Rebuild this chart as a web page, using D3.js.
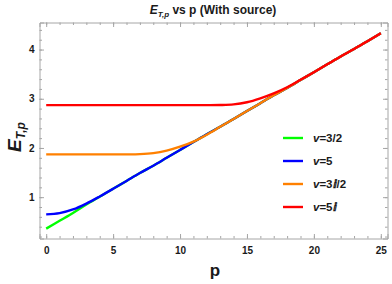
<!DOCTYPE html>
<html>
<head>
<meta charset="utf-8">
<script src="https://cdn.jsdelivr.net/npm/d3@7"></script>
<style>
  body { margin: 0; background: #fff; }
  svg { display: block; font-family: "Liberation Sans", Arial, sans-serif; }
  .frame path, .frame line { stroke: #a6a6a6; }
  .frame text { fill: #1a1a1a; font-weight: bold; font-size: 10px; }
  .curve { fill: none; stroke-width: 2.4px; stroke-linejoin: round; }
</style>
</head>
<body>
<svg id="chart" width="392" height="284"></svg>
<script>
// values
const p = [0,1,2,3,4,5,6,7,8,9,10,11,12,13,14,15,16,17,18,19,20,21,22,23,24,25];
const v32 = [0.36,0.52,0.68,0.85,1.01,1.17,1.33,1.49,1.64,1.80,1.96,2.12,2.28,2.43,2.59,2.75,2.91,3.07,3.22,3.38,3.54,3.70,3.86,4.01,4.17,4.33];
const v5 = [0.65,0.675,0.75,0.87,1.015,1.17,1.33,1.49,1.64,1.80,1.96,2.12,2.28,2.43,2.59,2.75,2.91,3.07,3.22,3.38,3.54,3.70,3.86,4.01,4.17,4.33];
const v3i2 = [1.87,1.87,1.87,1.87,1.87,1.87,1.87,1.875,1.895,1.945,2.025,2.13,2.27,2.43,2.59,2.75,2.91,3.07,3.22,3.38,3.54,3.70,3.86,4.01,4.17,4.33];
const v5i = [2.87,2.87,2.87,2.87,2.87,2.87,2.87,2.87,2.87,2.87,2.87,2.87,2.87,2.872,2.885,2.93,3.01,3.11,3.235,3.385,3.54,3.70,3.86,4.01,4.17,4.33];

const seriesNames = ["v=3/2", "v=5", "v=3ⅈ/2", "v=5ⅈ"];
const seriesColors = ["#00ff00", "#0000ff", "#ff8000", "#ff0000"];
const xTicks = [0,5,10,15,20,25];
const yTicks = [1,2,3,4];

const svg = d3.select("#chart");
const plot = { left: 39.5, right: 387.5, top: 22.5, bottom: 238.5 };

const x = d3.scaleLinear().domain([-0.5, 25.5]).range([plot.left, plot.right]);
const y = d3.scaleLinear().domain([0.16, 4.55]).range([plot.bottom, plot.top]);

const xMinor = d3.range(0, 26, 1);
const yMinor = d3.range(2, 45, 2).map(d => d / 10);

// frame + ticks (inward, Mathematica style)
function frameAxis(axis, tr, cls) {
  return svg.append("g").attr("class", "frame " + cls).attr("transform", tr).call(axis);
}
frameAxis(d3.axisBottom(x).tickValues(xTicks).tickSize(-4.5).tickPadding(8).tickFormat(d3.format("d")), `translate(0,${plot.bottom})`, "xb");
frameAxis(d3.axisBottom(x).tickValues(xMinor).tickSize(-2.5).tickFormat(""), `translate(0,${plot.bottom})`, "xbm");
frameAxis(d3.axisTop(x).tickValues(xTicks).tickSize(-4.5).tickFormat(""), `translate(0,${plot.top})`, "xt");
frameAxis(d3.axisTop(x).tickValues(xMinor).tickSize(-2.5).tickFormat(""), `translate(0,${plot.top})`, "xtm");
frameAxis(d3.axisLeft(y).tickValues(yTicks).tickSize(-4.5).tickPadding(5).tickFormat(d3.format("d")), `translate(${plot.left},0)`, "yl");
frameAxis(d3.axisLeft(y).tickValues(yMinor).tickSize(-2.5).tickFormat(""), `translate(${plot.left},0)`, "ylm");
frameAxis(d3.axisRight(y).tickValues(yTicks).tickSize(-4.5).tickFormat(""), `translate(${plot.right},0)`, "yr");
frameAxis(d3.axisRight(y).tickValues(yMinor).tickSize(-2.5).tickFormat(""), `translate(${plot.right},0)`, "yrm");
svg.selectAll(".frame path.domain").attr("stroke-width", 1);
svg.selectAll(".xbm path, .xtm path, .ylm path, .yrm path").remove();

// curves
const seriesData = [v32, v5, v3i2, v5i];
const line = d3.line()
  .x((d, i) => x(p[i]))
  .y(d => y(d))
  .curve(d3.curveCatmullRom.alpha(0.5));

svg.append("g")
  .selectAll("path")
  .data(seriesData)
  .join("path")
  .attr("class", "curve")
  .attr("stroke", (d, i) => seriesColors[i])
  .attr("d", line);

// title
const title = svg.append("text")
  .attr("x", 213).attr("y", 14)
  .attr("text-anchor", "middle")
  .style("font-size", "12px").style("font-weight", "bold").attr("fill", "#1a1a1a");
title.append("tspan").style("font-style", "italic").text("E");
title.append("tspan").style("font-style", "italic").style("font-size", "8px").attr("dy", 3).text("T,p");
title.append("tspan").attr("dy", -3).text(" vs p (With source)");

// axis labels
svg.append("text")
  .attr("x", 215).attr("y", 276)
  .attr("text-anchor", "middle")
  .style("font-size", "17px").style("font-weight", "bold").attr("fill", "#1a1a1a")
  .text("p");

const yl = svg.append("text")
  .attr("transform", "translate(21,137) rotate(-90)")
  .attr("text-anchor", "middle")
  .style("font-size", "19px").style("font-weight", "bold").style("font-style", "italic").attr("fill", "#1a1a1a");
yl.append("tspan").text("E");
yl.append("tspan").style("font-size", "12px").attr("dy", 4).text("T,p");

// legend
const legY = d3.scalePoint().domain(seriesNames).range([138, 207]);
const leg = svg.append("g").selectAll("g")
  .data(seriesNames)
  .join("g")
  .attr("transform", d => `translate(283,${legY(d)})`);
leg.append("line")
  .attr("x1", 0).attr("x2", 20)
  .attr("stroke", (d, i) => seriesColors[i])
  .attr("stroke-width", 2.4);
const lt = leg.append("text")
  .attr("x", 30).attr("y", 4)
  .style("font-size", "11.5px").style("font-weight", "bold").attr("fill", "#1a1a1a");
lt.append("tspan").style("font-style", "italic").text("v");
lt.append("tspan").text(d => d.slice(1));
</script>
</body>
</html>
